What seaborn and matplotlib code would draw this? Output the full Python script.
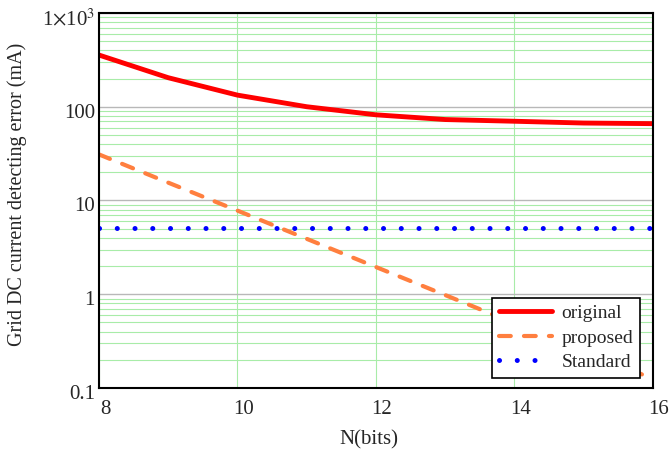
import numpy as np
import pandas as pd
import matplotlib
matplotlib.use("Agg")
import matplotlib.pyplot as plt
import matplotlib.transforms as mtrans
import seaborn as sns
from matplotlib.ticker import LogLocator, NullFormatter
from matplotlib.lines import Line2D

bits = [8, 9, 10, 11, 12, 13, 14, 15, 16]
original = [356, 204, 133, 100, 82, 73, 70, 67, 66]
proposed = [31, 15.5, 7.8, 3.9, 1.95, 0.98, 0.49, 0.25, 0.125]
standard = [5.1] * 9
y_ticks = [0.1, 1, 10, 100, 1000]
y_labels = ["0.1", "1", "10", "100", r"1$\times$10$^{3}$"]
x_ticks = [8, 10, 12, 14, 16]

sns.set_style("white")
plt.rcParams['font.family'] = ['Liberation Serif', 'DejaVu Serif']
plt.rcParams['mathtext.fontset'] = 'stix'

df = pd.DataFrame({"N": bits * 3,
                   "val": original + proposed + standard,
                   "series": ["original"] * 9 + ["proposed"] * 9 + ["Standard"] * 9})

fig = plt.figure(figsize=(6.71, 4.67), dpi=100)
ax = fig.add_axes([0.1475, 0.1692, 0.8256, 0.803])

ax.set_yscale("log")
ax.set_xlim(8, 16)
ax.set_ylim(0.1, 1000)

ax.yaxis.set_minor_locator(LogLocator(base=10, subs=np.arange(2, 10)))
ax.yaxis.set_minor_formatter(NullFormatter())
ax.grid(which="minor", axis="y", color="#a8eca8", linewidth=0.8)
ax.grid(which="major", axis="y", color="#b8b8b8", linewidth=1.0)
ax.grid(which="major", axis="x", color="#a8eca8", linewidth=0.8)
ax.set_axisbelow(True)

palette = {"original": "#ff0000", "proposed": "#ff7f3f", "Standard": "#0000ff"}
sns.lineplot(data=df, x="N", y="val", hue="series", palette=palette, ax=ax, legend=False)
lines = ax.get_lines()
lines[0].set_linewidth(3.5)
lines[0].set_solid_joinstyle("round")
lines[1].set_linewidth(3.0)
lines[1].set_dashes([2.83, 3.16])
lines[1].set_dash_capstyle("round")
lines[2].set_linewidth(3.6)
lines[2].set_dashes([0.01, 3.54])
lines[2].set_dash_capstyle("round")

ax.set_xticks(x_ticks)
ax.set_yticks(y_ticks)
ax.set_yticklabels(y_labels)
ax.tick_params(axis="both", which="both", length=0, labelsize=15, pad=3)
ax.tick_params(axis="x", pad=9)

# slight offsets of tick labels as in the reference
xoff = mtrans.ScaledTranslation(6 / 100, 0, fig.dpi_scale_trans)
for lab in ax.get_xticklabels():
    lab.set_transform(lab.get_transform() + xoff)
yoff = mtrans.ScaledTranslation(0, -4 / 100, fig.dpi_scale_trans)
for lab in ax.get_yticklabels():
    lab.set_transform(lab.get_transform() + yoff)

for s in ax.spines.values():
    s.set_color("black")
    s.set_linewidth(1.5)

ax.set_xlabel("N(bits)", fontsize=15)
ax.xaxis.set_label_coords(0.487, -0.139)
ax.xaxis.label.set_verticalalignment("center")
ax.set_ylabel("Grid DC current detecting error (mA)", fontsize=14.5)
ax.yaxis.set_label_coords(-0.148, 0.515)
ax.yaxis.label.set_verticalalignment("center")

handles = [Line2D([], [], color="#ff0000", lw=3.5),
           Line2D([], [], color="#ff7f3f", lw=3.0, dashes=[2.83, 3.16], dash_capstyle="round"),
           Line2D([], [], color="#0000ff", lw=3.6, dashes=[0.01, 3.54], dash_capstyle="round")]
leg = ax.legend(handles, ["original", "proposed", "Standard"], loc="lower right",
                bbox_to_anchor=(0.9765, 0.027), fontsize=14, frameon=True, fancybox=False,
                edgecolor="black", framealpha=1, handlelength=2.7, borderpad=0.35,
                labelspacing=0.35, handletextpad=0.5, borderaxespad=0.0)
leg.get_frame().set_linewidth(1.2)

fig.savefig("out.png", dpi=100)
